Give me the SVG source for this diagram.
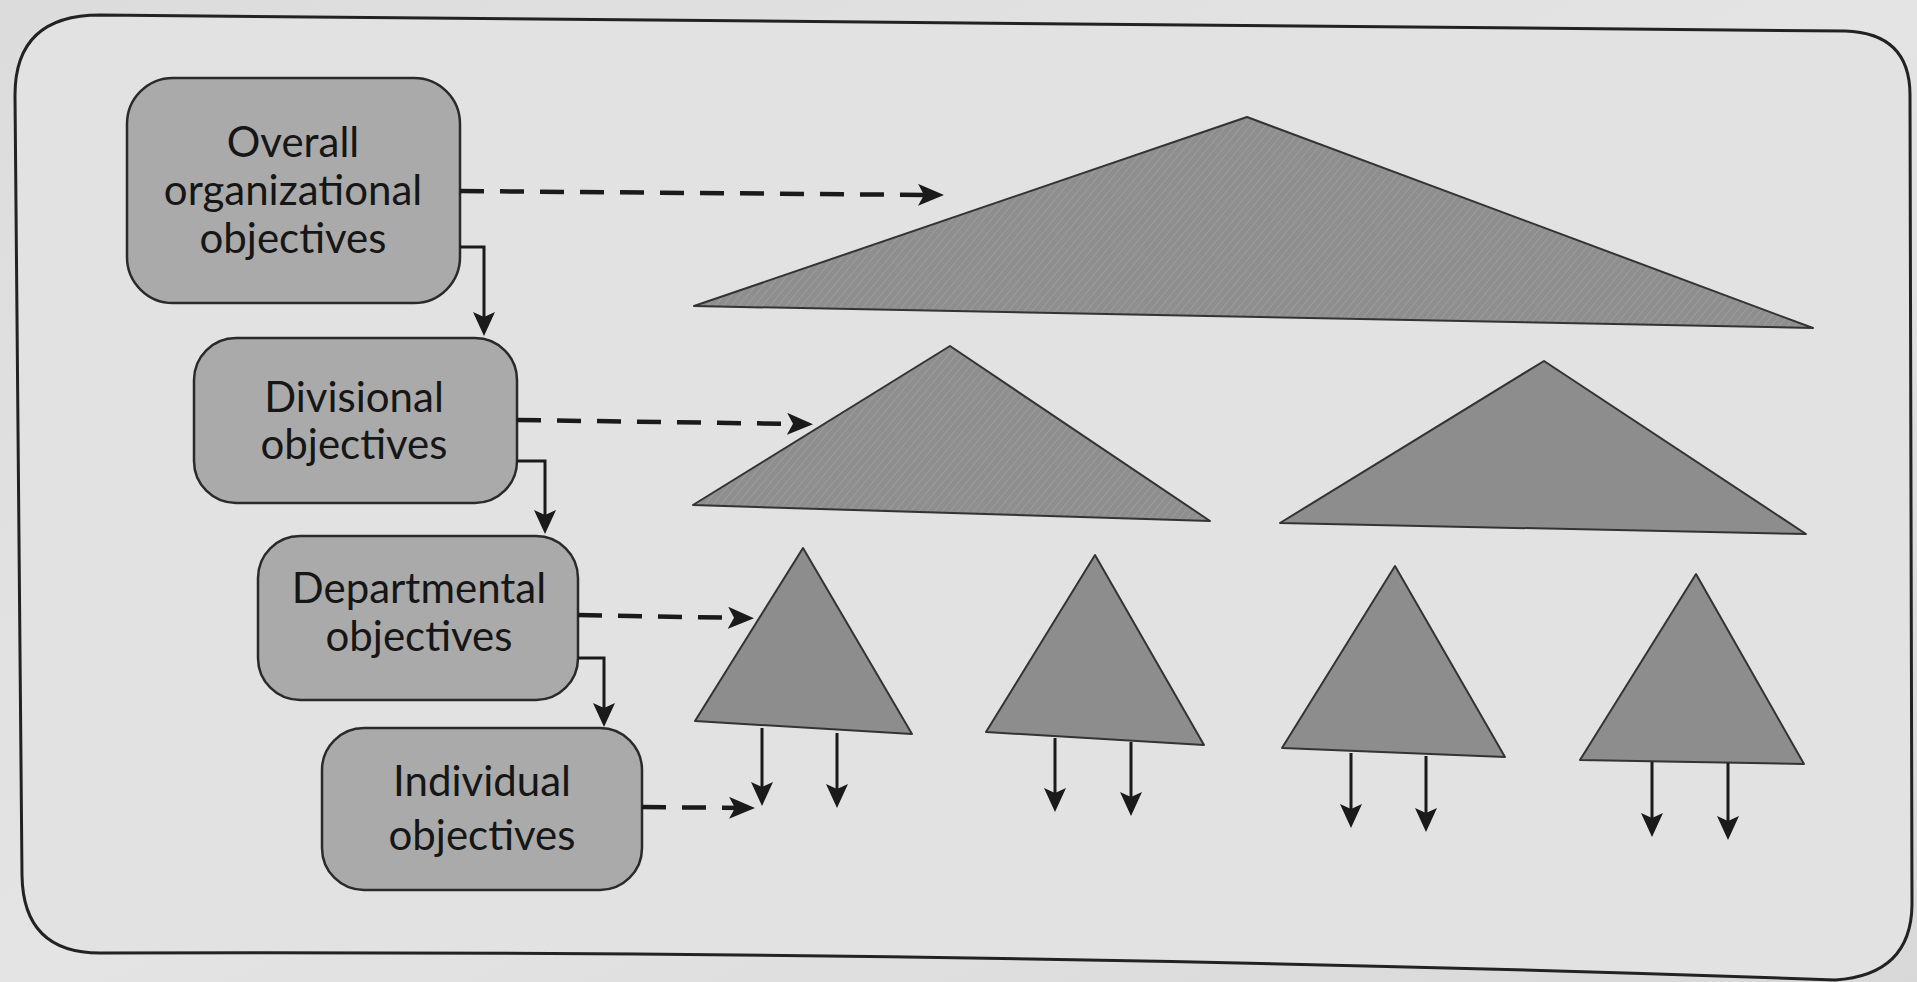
<svg xmlns="http://www.w3.org/2000/svg" width="1917" height="982" viewBox="0 0 1917 982">
  <style>
    .box { fill: #aaaaaa; stroke: #2a2a2a; stroke-width: 2.5; }
    .label { font-family: "Lato", "Liberation Sans", sans-serif; font-size: 42px; fill: #161616; text-anchor: middle; }
    .tri { stroke: #333333; stroke-width: 2; stroke-linejoin: round; }
    .tri-wide { fill: url(#hatch); }
    .tri-small { fill: #8d8d8d; }
    .dash { fill: none; stroke: #1a1a1a; stroke-width: 4.5; stroke-dasharray: 24 16; }
    .solid { fill: none; stroke: #1a1a1a; stroke-width: 3; }
  </style>
  <defs>
    <linearGradient id="paper" x1="0" y1="0" x2="1" y2="1">
      <stop offset="0" stop-color="#dcdcdc"/>
      <stop offset="0.5" stop-color="#e4e4e4"/>
      <stop offset="1" stop-color="#d8d8d8"/>
    </linearGradient>
    <pattern id="hatch" width="6" height="6" patternUnits="userSpaceOnUse" patternTransform="rotate(40)">
      <rect width="6" height="6" fill="#8e8e8e"/>
      <line x1="0" y1="0" x2="0" y2="6" stroke="#9c9c9c" stroke-width="2"/>
    </pattern>
    <marker id="head" markerUnits="userSpaceOnUse" viewBox="0 0 26 22" markerWidth="26" markerHeight="22" refX="16" refY="11" orient="auto">
      <path d="M0,0 L26,11 L0,22 L6,11 Z" fill="#1a1a1a"/>
    </marker>
    <marker id="head-s" markerUnits="userSpaceOnUse" viewBox="0 0 24 22" markerWidth="24" markerHeight="22" refX="14" refY="11" orient="auto">
      <path d="M0,0 L24,11 L0,22 L5,11 Z" fill="#1a1a1a"/>
    </marker>
  </defs>

  <!-- page background and outer frame -->
  <rect width="1917" height="982" fill="url(#paper)"/>
  <path d="M100,15 L1845,31 Q1910,33 1910,95 L1912,905 Q1911,975 1835,980 Q1000,950 100,953 Q23,953 22,875 L15,95 Q15,15 100,15 Z"
        fill="#e2e2e2" stroke="#222222" stroke-width="3"/>

  <!-- objective boxes -->
  <g id="node-overall">
    <rect class="box" x="127" y="78" width="333" height="225" rx="46"/>
    <text class="label" x="293" y="157">Overall</text>
    <text class="label" x="293" y="205">organizational</text>
    <text class="label" x="293" y="253">objectives</text>
  </g>
  <g id="node-divisional">
    <rect class="box" x="194" y="338" width="323" height="165" rx="42"/>
    <text class="label" x="354" y="412">Divisional</text>
    <text class="label" x="354" y="459">objectives</text>
  </g>
  <g id="node-departmental">
    <rect class="box" x="258" y="536" width="320" height="164" rx="42"/>
    <text class="label" x="419" y="603">Departmental</text>
    <text class="label" x="419" y="651">objectives</text>
  </g>
  <g id="node-individual">
    <rect class="box" x="322" y="728" width="320" height="162" rx="42"/>
    <text class="label" x="482" y="796">Individual</text>
    <text class="label" x="482" y="850">objectives</text>
  </g>

  <!-- objective pyramids by level -->
  <g id="pyramids">
    <polygon id="pyr-org" class="tri tri-wide" points="1247,117 694,306 1813,328"/>
    <polygon id="pyr-div-1" class="tri tri-wide" points="950,346 693,505 1210,521"/>
    <polygon id="pyr-div-2" class="tri tri-small" points="1544,361 1280,523 1806,534"/>
    <polygon id="pyr-dept-1" class="tri tri-small" points="803,548 695,721 912,734"/>
    <polygon id="pyr-dept-2" class="tri tri-small" points="1095,555 986,732 1204,745"/>
    <polygon id="pyr-dept-3" class="tri tri-small" points="1395,566 1282,748 1505,757"/>
    <polygon id="pyr-dept-4" class="tri tri-small" points="1696,574 1580,760 1804,764"/>
  </g>

  <!-- connectors -->
  <g id="connectors">
    <!-- level links to pyramids -->
    <path class="dash" d="M460,191 L934,195" marker-end="url(#head)"/>
    <path class="dash" d="M517,420 L803,424" marker-end="url(#head)"/>
    <path class="dash" d="M578,615 L744,618" marker-end="url(#head)"/>
    <path class="dash" d="M642,807 L745,808" marker-end="url(#head)"/>
    <!-- cascade between levels -->
    <path class="solid" d="M460,247 L484,247 L484,326" marker-end="url(#head-s)"/>
    <path class="solid" d="M517,461 L545,461 L545,524" marker-end="url(#head-s)"/>
    <path class="solid" d="M578,658 L604,658 L604,717" marker-end="url(#head-s)"/>
    <!-- individual objectives below each department -->
    <path class="solid" d="M762,728 L762,796" marker-end="url(#head-s)"/>
    <path class="solid" d="M837,733 L837,798" marker-end="url(#head-s)"/>
    <path class="solid" d="M1055,738 L1055,802" marker-end="url(#head-s)"/>
    <path class="solid" d="M1131,742 L1131,806" marker-end="url(#head-s)"/>
    <path class="solid" d="M1351,753 L1351,818" marker-end="url(#head-s)"/>
    <path class="solid" d="M1426,756 L1426,822" marker-end="url(#head-s)"/>
    <path class="solid" d="M1652,762 L1652,827" marker-end="url(#head-s)"/>
    <path class="solid" d="M1728,763 L1728,830" marker-end="url(#head-s)"/>
  </g>
</svg>
